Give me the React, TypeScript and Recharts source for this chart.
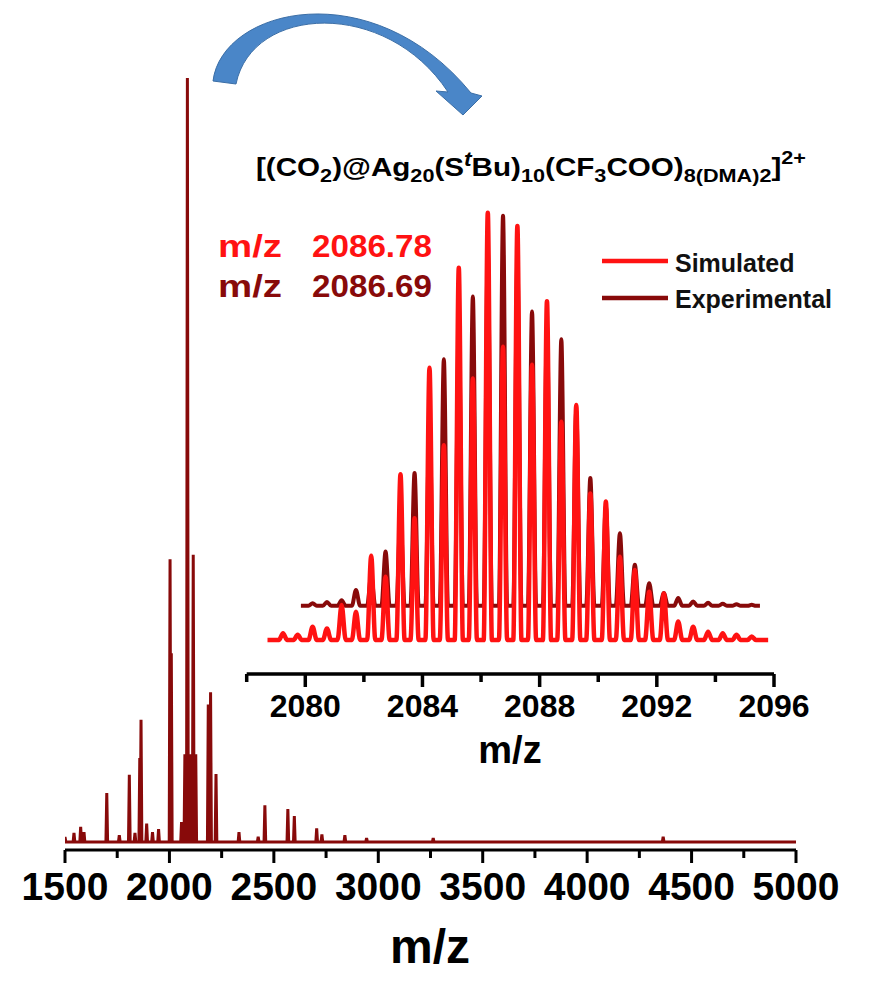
import React from 'react';
import { LineChart, Line, XAxis, YAxis } from 'recharts';

// ---------- full-range spectrum (relative intensity, %) ----------
const MAIN_PEAK_MZ = [
  1500, 1543, 1575, 1591, 1700, 1760, 1808, 1835, 1858, 1864, 1891, 1919, 1948,
  2003, 2009, 2058, 2074, 2080, 2086, 2092, 2098, 2104, 2114, 2120, 2126,
  2186, 2197, 2223, 2333, 2425, 2457, 2567, 2598, 2705, 2730, 2840, 2944, 3263, 4364,
];
const MAIN_PEAK_INT = [
  0.65, 1.2, 2.0, 1.3, 6.4, 0.9, 8.8, 1.2, 11, 16.0, 2.4, 1.3, 1.7,
  37.0, 24.7, 2.6, 11.5, 11.5, 100, 11.5, 11.5, 11.5, 37.6, 11.5, 11.5,
  18, 19.6, 8.9, 1.3, 0.7, 4.8, 4.3, 3.4, 1.8, 1.0, 0.9, 0.5, 0.5, 0.7,
];
const MAIN_TICKS = [1500, 1750, 2000, 2250, 2500, 2750, 3000, 3250, 3500, 3750, 4000, 4250, 4500, 4750, 5000];

// ---------- isotope envelope of the 2+ ion ----------
const ISO_MZ = [
  2079.24, 2079.74, 2080.25, 2080.74, 2081.24, 2081.73, 2082.25, 2082.74, 2083.25, 2083.73,
  2084.24, 2084.73, 2085.24, 2085.72, 2086.23, 2086.75, 2087.24, 2087.74, 2088.25, 2088.74,
  2089.25, 2089.73, 2090.26, 2090.74, 2091.25, 2091.74, 2092.24, 2092.73, 2093.24, 2093.75,
  2094.25, 2094.72, 2095.24,
];
const SIM_INT = [
  1.6, 1.2, 3.1, 2.7, 8.2, 6.6, 19.7, 14.8, 38.8, 28.5,
  63.7, 45.6, 87.1, 61.2, 100, 68.6, 96.9, 64.4, 79.3, 51.1,
  55, 34.3, 32.4, 19.5, 16.4, 11.3, 10.9, 4.3, 3.1, 1.9,
  1.6, 1.2, 0.8,
];
const EXP_INT = [
  0, 0, 0.6, 0.9, 1.3, 3.7, 7, 12.7, 21, 31.1,
  44, 57.7, 65, 72.4, 83, 91.3, 80.7, 68.9, 65.5, 62.4,
  45.6, 29.9, 23.4, 17, 9.6, 5.3, 3, 1.8, 1, 0.7,
  0.5, 0.35, 0.25,
];
const SIM_RANGE = [2078.71, 2095.8];
const EXP_RANGE = [2079.85, 2095.52];
const INSET_TICKS = [2078, 2080, 2082, 2084, 2086, 2088, 2090, 2092, 2094, 2096];

const SIM_MZ_LABEL = '2086.78';
const EXP_MZ_LABEL = '2086.69';

// ---------- drawing constants ----------
const EXP_OFFSET = 8; // vertical offset of the experimental trace
const MAIN_HALF = 4;
const ISO_HALF = 0.14;
const FONT = "Arial, 'Liberation Sans', Helvetica, sans-serif";
const DARK = '#880a0a';
const RED = '#ff1212';

type Pt = { mz: number; v: number };

function stickTrace(mz: number[], inten: number[], half: number, range: number[], base = 0): Pt[] {
  const pts: Pt[] = [{ mz: range[0], v: base }];
  mz.forEach((m, i) => {
    if (m < range[0] || m > range[1]) return;
    pts.push({ mz: m - half, v: base });
    pts.push({ mz: m, v: base + inten[i] });
    pts.push({ mz: m + half, v: base });
  });
  pts.push({ mz: range[1], v: base });
  return pts;
}

const mainData = stickTrace(MAIN_PEAK_MZ, MAIN_PEAK_INT, MAIN_HALF, [1500, 5000]);
const simData = stickTrace(ISO_MZ, SIM_INT, ISO_HALF, SIM_RANGE);
const expData = stickTrace(
  ISO_MZ.filter((_, i) => EXP_INT[i] > 0),
  EXP_INT.filter((v) => v > 0),
  ISO_HALF,
  EXP_RANGE,
  EXP_OFFSET,
);

const MainTick = (props: any) => {
  const { x, y, payload } = props;
  const v = payload.value as number;
  const major = v % 500 === 0;
  return (
    <g>
      <line x1={x} x2={x} y1={y} y2={y + (major ? 13 : 8)} stroke="#000" strokeWidth={3} />
      {major && (
        <text x={x} y={y + 50} textAnchor="middle" fontSize={39} fontWeight="bold" fontFamily={FONT} fill="#000">
          {v}
        </text>
      )}
    </g>
  );
};

const InsetTick = (props: any) => {
  const { x, y, payload } = props;
  const v = payload.value as number;
  const major = (v - 2080) % 4 === 0;
  return (
    <g>
      <line x1={x} x2={x} y1={y} y2={y + (major ? 13 : 8)} stroke="#000" strokeWidth={3.5} />
      {major && (
        <text x={x} y={y + 43} textAnchor="middle" fontSize={32} fontWeight="bold" fontFamily={FONT} fill="#000">
          {v}
        </text>
      )}
    </g>
  );
};

export default function App() {
  return (
    <div style={{ position: 'absolute', left: 0, top: 0, width: 873, height: 985, background: '#fff' }}>
      {/* full spectrum */}
      <div style={{ position: 'absolute', left: 0, top: 0 }}>
        <LineChart width={873} height={985} data={mainData} margin={{ top: 60, right: 77, bottom: 75, left: 65 }}>
          <XAxis
            type="number"
            dataKey="mz"
            domain={[1500, 5000]}
            ticks={MAIN_TICKS}
            interval={0}
            allowDataOverflow
            height={60}
            tickSize={0}
            tickMargin={0}
            tickLine={false}
            axisLine={{ stroke: '#000', strokeWidth: 3 }}
            tick={<MainTick />}
          />
          <YAxis hide type="number" domain={[-1.047, 102.36]} allowDataOverflow />
          <Line
            type="linear"
            dataKey="v"
            stroke={DARK}
            strokeWidth={3}
            dot={false}
            activeDot={false}
            isAnimationActive={false}
          />
        </LineChart>
      </div>

      {/* isotope inset */}
      <div style={{ position: 'absolute', left: 200, top: 180 }}>
        <LineChart width={620} height={620} margin={{ top: 20, right: 46, bottom: 26, left: 46.7 }}>
          <XAxis
            type="number"
            dataKey="mz"
            domain={[2078, 2096]}
            ticks={INSET_TICKS}
            interval={0}
            allowDataOverflow
            height={100}
            tickSize={0}
            tickMargin={0}
            tickLine={false}
            axisLine={{ stroke: '#000', strokeWidth: 3.5 }}
            tick={<InsetTick />}
          />
          <YAxis hide type="number" domain={[-7.96, 102.97]} allowDataOverflow />
          <Line
            data={expData}
            type="monotone"
            dataKey="v"
            stroke={DARK}
            strokeWidth={4}
            dot={false}
            activeDot={false}
            isAnimationActive={false}
          />
          <Line
            data={simData}
            type="monotone"
            dataKey="v"
            stroke={RED}
            strokeWidth={4.5}
            dot={false}
            activeDot={false}
            isAnimationActive={false}
          />
        </LineChart>
      </div>

      {/* annotations */}
      <svg width={873} height={985} style={{ position: 'absolute', left: 0, top: 0, pointerEvents: 'none' }}>
        <path
          d="M 213 81 C 222 8, 372 -28, 471 93 L 482 96 L 463 115 L 436 91 L 448 92 C 386 -2, 252 5, 236 84 Z"
          fill="#4a86c8"
          stroke="#3b6ea6"
          strokeWidth={1}
        />
        <text
          x={256}
          y={176}
          fontSize={26}
          fontWeight="bold"
          fontFamily={FONT}
          fill="#000"
          textLength={550}
          lengthAdjust="spacingAndGlyphs"
        >
          <tspan>[(CO</tspan>
          <tspan fontSize={19} dy={6}>2</tspan>
          <tspan dy={-6}>)@Ag</tspan>
          <tspan fontSize={19} dy={6}>20</tspan>
          <tspan dy={-6}>(S</tspan>
          <tspan fontSize={20} fontStyle="italic" dy={-10}>t</tspan>
          <tspan dy={10}>Bu)</tspan>
          <tspan fontSize={19} dy={6}>10</tspan>
          <tspan dy={-6}>(CF</tspan>
          <tspan fontSize={19} dy={6}>3</tspan>
          <tspan dy={-6}>COO)</tspan>
          <tspan fontSize={19} dy={6}>8(DMA)2</tspan>
          <tspan dy={-6}>]</tspan>
          <tspan fontSize={19} dy={-12}>2+</tspan>
        </text>

        <text x={218} y={257} fontSize={32} fontWeight="bold" fontFamily={FONT} fill={RED} textLength={64} lengthAdjust="spacingAndGlyphs">m/z</text>
        <text x={312} y={257} fontSize={32} fontWeight="bold" fontFamily={FONT} fill={RED} textLength={120} lengthAdjust="spacingAndGlyphs">
          {SIM_MZ_LABEL}
        </text>
        <text x={218} y={297} fontSize={32} fontWeight="bold" fontFamily={FONT} fill={DARK} textLength={64} lengthAdjust="spacingAndGlyphs">m/z</text>
        <text x={312} y={297} fontSize={32} fontWeight="bold" fontFamily={FONT} fill={DARK} textLength={120} lengthAdjust="spacingAndGlyphs">
          {EXP_MZ_LABEL}
        </text>

        <line x1={602} x2={668} y1={261} y2={261} stroke={RED} strokeWidth={4.5} />
        <text x={675} y={272} fontSize={25} fontWeight="bold" fontFamily={FONT} fill="#111">Simulated</text>
        <line x1={602} x2={668} y1={298} y2={298} stroke={DARK} strokeWidth={4.5} />
        <text x={675} y={308} fontSize={25} fontWeight="bold" fontFamily={FONT} fill="#111">Experimental</text>

        <text x={510} y={763} textAnchor="middle" fontSize={38} fontWeight="bold" fontFamily={FONT} fill="#000">m/z</text>
        <text x={430} y={963} textAnchor="middle" fontSize={48} fontWeight="bold" fontFamily={FONT} fill="#000">m/z</text>
      </svg>
    </div>
  );
}
